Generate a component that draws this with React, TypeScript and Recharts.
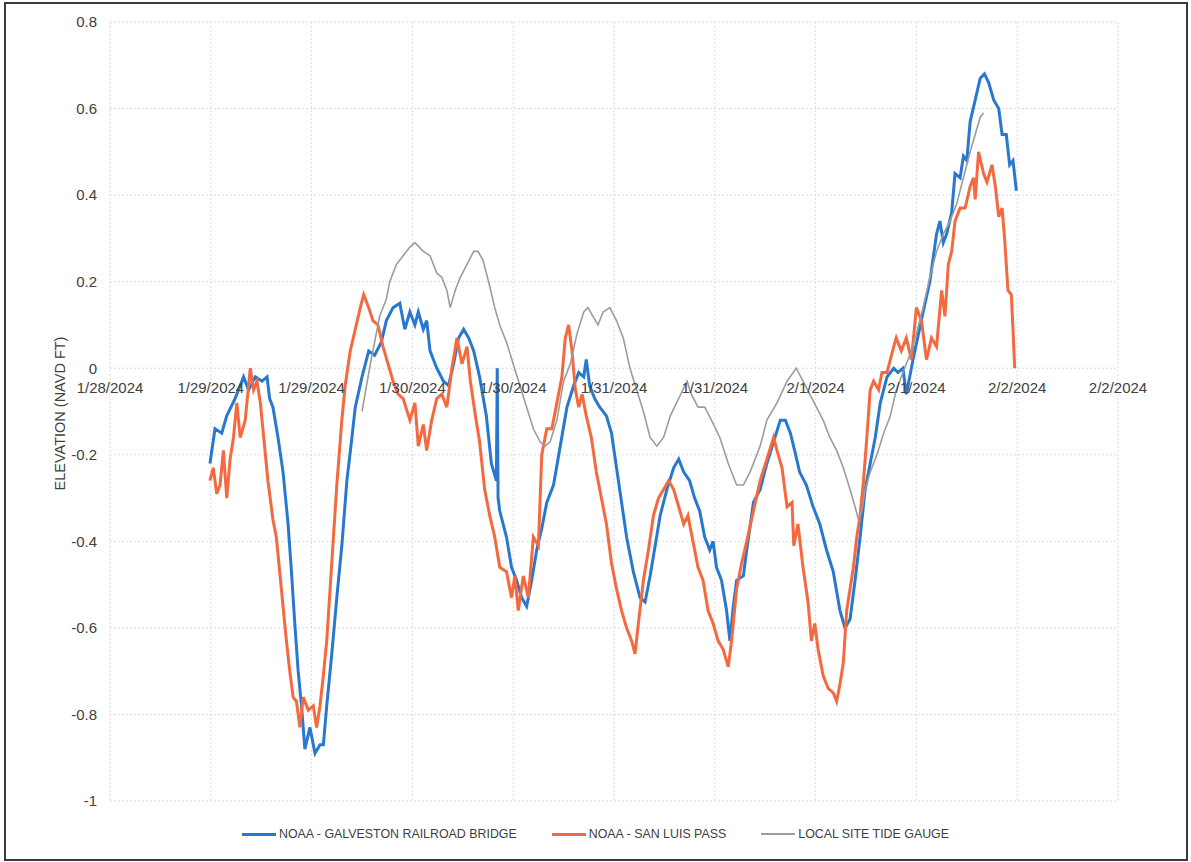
import { LineChart, Line, XAxis, YAxis, CartesianGrid } from 'recharts';

// hours after the first axis tick, elevation in ft (NAVD)
const galveston: [number, number][] = [
  [11.9, -0.22], [12.5, -0.14], [13.3, -0.15], [13.9, -0.11], [14.9, -0.07], [15.9, -0.02],
  [16.5, -0.05], [17.3, -0.02], [18.1, -0.03], [18.7, -0.02], [19.0, -0.07], [19.4, -0.09],
  [20.0, -0.16], [20.6, -0.24], [21.2, -0.36], [21.6, -0.47], [22.0, -0.59], [22.4, -0.7],
  [22.8, -0.78], [23.2, -0.88], [23.8, -0.83], [24.4, -0.89], [25.0, -0.87], [25.4, -0.87],
  [25.8, -0.78], [26.4, -0.66], [27.0, -0.53], [27.6, -0.41], [28.2, -0.26], [28.8, -0.16],
  [29.2, -0.09], [30.0, -0.02], [30.8, 0.04], [31.5, 0.03], [32.3, 0.06], [32.9, 0.11],
  [33.7, 0.14], [34.5, 0.15], [35.1, 0.09], [35.7, 0.13], [36.3, 0.1], [36.7, 0.13],
  [37.3, 0.09], [37.7, 0.11], [38.1, 0.04], [38.9, 0.0], [39.7, -0.03], [40.3, -0.04],
  [40.9, 0.01], [41.5, 0.07], [42.1, 0.09], [42.7, 0.07], [43.3, 0.04], [44.0, -0.02],
  [44.8, -0.11], [45.4, -0.22], [46.0, -0.26], [46.1, 0.0], [46.2, -0.3], [46.4, -0.33],
  [47.2, -0.39], [47.8, -0.46], [48.4, -0.49], [49.0, -0.53], [49.6, -0.55], [50.2, -0.49],
  [50.8, -0.42], [51.4, -0.37], [52.0, -0.31], [52.8, -0.27], [53.6, -0.18], [54.4, -0.09],
  [55.2, -0.04], [55.8, -0.01], [56.4, -0.02], [56.7, 0.02], [57.1, -0.04], [57.7, -0.07],
  [58.3, -0.09], [59.1, -0.11], [59.7, -0.15], [60.3, -0.23], [60.9, -0.31], [61.5, -0.39],
  [62.3, -0.47], [63.1, -0.53], [63.7, -0.54], [64.3, -0.48], [64.9, -0.41], [65.5, -0.34],
  [66.3, -0.28], [67.1, -0.23], [67.7, -0.21], [68.3, -0.24], [69.0, -0.26], [69.6, -0.3],
  [70.2, -0.33], [70.8, -0.39], [71.4, -0.42], [71.8, -0.4], [72.2, -0.46], [72.8, -0.49],
  [73.4, -0.56], [73.8, -0.63], [74.2, -0.55], [74.6, -0.49], [75.4, -0.48], [75.8, -0.42],
  [76.6, -0.31], [77.4, -0.28], [78.2, -0.22], [79.0, -0.17], [79.8, -0.12], [80.4, -0.12],
  [81.0, -0.15], [81.5, -0.19], [82.1, -0.24], [82.9, -0.27], [83.7, -0.32], [84.5, -0.36],
  [85.3, -0.42], [86.1, -0.47], [86.9, -0.56], [87.5, -0.6], [88.1, -0.58], [88.7, -0.49],
  [89.3, -0.39], [89.9, -0.28], [90.5, -0.22], [91.1, -0.16], [91.7, -0.08], [92.5, -0.02],
  [93.3, 0.0], [93.8, -0.01], [94.4, 0.0], [94.8, -0.06], [95.6, 0.02], [96.8, 0.13],
  [97.6, 0.2], [98.4, 0.31], [98.8, 0.34], [99.2, 0.29], [99.6, 0.31], [100.2, 0.36],
  [100.6, 0.45], [101.2, 0.44], [101.6, 0.49], [102.0, 0.48], [102.4, 0.57], [103.0, 0.62],
  [103.6, 0.67], [104.1, 0.68], [104.6, 0.66], [105.2, 0.62], [105.8, 0.6], [106.2, 0.54],
  [106.7, 0.54], [107.1, 0.47], [107.5, 0.48], [107.9, 0.41],
];

const sanLuisPass: [number, number][] = [
  [11.9, -0.26], [12.3, -0.23], [12.7, -0.29], [13.1, -0.27], [13.5, -0.19], [13.9, -0.3],
  [14.3, -0.21], [14.7, -0.16], [15.1, -0.08], [15.5, -0.16], [16.1, -0.12], [16.7, 0.0],
  [17.1, -0.05], [17.5, -0.03], [17.9, -0.08], [18.3, -0.16], [18.8, -0.26], [19.4, -0.35],
  [19.8, -0.39], [20.2, -0.47], [20.6, -0.55], [21.0, -0.63], [21.4, -0.7], [21.8, -0.76],
  [22.2, -0.77], [22.6, -0.83], [23.0, -0.76], [23.6, -0.79], [24.2, -0.78], [24.6, -0.83],
  [25.0, -0.78], [25.4, -0.71], [25.8, -0.63], [26.2, -0.51], [26.6, -0.39], [27.0, -0.27],
  [27.6, -0.12], [28.0, -0.04], [28.6, 0.04], [29.2, 0.09], [29.8, 0.14], [30.2, 0.17],
  [30.8, 0.14], [31.3, 0.11], [31.9, 0.1], [32.5, 0.05], [33.1, 0.01], [33.7, -0.03],
  [34.3, -0.06], [34.9, -0.07], [35.7, -0.12], [36.3, -0.08], [36.7, -0.18], [37.3, -0.13],
  [37.7, -0.19], [38.3, -0.12], [38.9, -0.07], [39.5, -0.06], [40.1, -0.09], [40.7, 0.0],
  [41.3, 0.07], [41.9, 0.01], [42.5, 0.05], [42.9, -0.03], [43.5, -0.11], [44.0, -0.17],
  [44.6, -0.28], [45.2, -0.34], [45.8, -0.39], [46.4, -0.46], [47.2, -0.47], [47.8, -0.53],
  [48.2, -0.48], [48.6, -0.56], [49.2, -0.48], [49.8, -0.53], [50.4, -0.39], [51.0, -0.41],
  [51.4, -0.2], [52.0, -0.14], [52.6, -0.14], [53.2, -0.08], [53.8, -0.02], [54.2, 0.07],
  [54.6, 0.1], [55.0, 0.04], [55.4, -0.05], [55.8, -0.09], [56.2, -0.06], [56.7, -0.11],
  [57.3, -0.16], [57.9, -0.24], [58.5, -0.3], [59.1, -0.36], [59.7, -0.45], [60.3, -0.51],
  [60.9, -0.56], [61.5, -0.6], [62.1, -0.63], [62.5, -0.66], [62.9, -0.59], [63.5, -0.49],
  [64.1, -0.42], [64.7, -0.34], [65.3, -0.3], [65.9, -0.28], [66.5, -0.26], [67.1, -0.28],
  [67.7, -0.32], [68.3, -0.36], [68.8, -0.34], [69.4, -0.4], [70.0, -0.46], [70.6, -0.49],
  [71.2, -0.56], [71.8, -0.59], [72.4, -0.63], [73.0, -0.65], [73.6, -0.69], [74.0, -0.63],
  [74.6, -0.51], [75.2, -0.45], [75.8, -0.4], [76.6, -0.33], [77.4, -0.26], [78.2, -0.21],
  [79.0, -0.16], [79.4, -0.19], [80.0, -0.23], [80.6, -0.32], [81.2, -0.31], [81.4, -0.41],
  [81.9, -0.36], [82.5, -0.46], [83.1, -0.54], [83.5, -0.63], [83.9, -0.59], [84.3, -0.65],
  [84.9, -0.71], [85.5, -0.74], [86.1, -0.75], [86.5, -0.77], [86.9, -0.73], [87.3, -0.68],
  [87.7, -0.56], [88.1, -0.51], [88.5, -0.46], [88.9, -0.39], [89.3, -0.34], [89.7, -0.26],
  [90.1, -0.16], [90.5, -0.05], [90.9, -0.03], [91.5, -0.05], [91.9, -0.01], [92.5, -0.01],
  [93.3, 0.05], [93.6, 0.07], [94.2, 0.04], [94.8, 0.07], [95.4, 0.02], [96.0, 0.14],
  [96.6, 0.11], [97.2, 0.02], [97.8, 0.07], [98.4, 0.05], [99.0, 0.18], [99.4, 0.12],
  [99.8, 0.24], [100.2, 0.27], [100.6, 0.34], [101.2, 0.37], [101.8, 0.37], [102.4, 0.42],
  [102.8, 0.44], [103.0, 0.39], [103.4, 0.5], [104.0, 0.45], [104.4, 0.43], [105.0, 0.47],
  [105.4, 0.42], [105.8, 0.35], [106.2, 0.37], [106.5, 0.3], [106.9, 0.18], [107.3, 0.17],
  [107.5, 0.09], [107.7, 0.0],
];

const localGauge: [number, number][] = [
  [30.0, -0.1], [30.9, 0.0], [31.7, 0.08], [32.1, 0.12], [32.9, 0.16], [33.3, 0.2],
  [34.1, 0.24], [34.5, 0.25], [35.7, 0.28], [36.3, 0.29], [37.3, 0.27], [38.1, 0.26],
  [38.9, 0.22], [39.5, 0.21], [40.1, 0.18], [40.5, 0.14], [41.1, 0.18], [41.7, 0.21],
  [42.5, 0.24], [43.3, 0.27], [43.8, 0.27], [44.4, 0.25], [45.2, 0.19], [45.8, 0.14],
  [46.4, 0.1], [47.2, 0.06], [48.0, 0.01], [48.8, -0.04], [49.6, -0.09], [50.4, -0.14],
  [51.2, -0.17], [51.8, -0.18], [52.4, -0.17], [53.2, -0.12], [54.0, -0.03], [54.8, 0.01],
  [55.6, 0.08], [56.4, 0.13], [56.9, 0.14], [57.5, 0.12], [58.1, 0.1], [58.7, 0.13],
  [59.5, 0.14], [60.3, 0.11], [61.1, 0.07], [61.9, 0.0], [62.7, -0.05], [63.5, -0.1],
  [64.3, -0.16], [65.1, -0.18], [65.9, -0.16], [66.7, -0.11], [67.7, -0.07], [68.7, -0.03],
  [69.2, -0.06], [70.0, -0.09], [70.8, -0.09], [71.6, -0.12], [72.6, -0.16], [73.6, -0.22],
  [74.6, -0.27], [75.4, -0.27], [76.2, -0.24], [77.4, -0.18], [78.2, -0.12], [79.4, -0.08],
  [80.6, -0.03], [81.7, 0.0], [82.5, -0.03], [83.3, -0.06], [84.1, -0.09], [84.9, -0.12],
  [85.7, -0.16], [86.5, -0.19], [87.3, -0.23], [88.1, -0.28], [88.7, -0.32], [89.1, -0.35],
  [89.5, -0.33], [89.9, -0.28], [90.5, -0.24], [91.3, -0.2], [92.1, -0.15], [92.9, -0.11],
  [93.6, -0.05], [94.4, -0.01], [95.2, 0.03], [96.0, 0.08], [96.8, 0.14], [97.6, 0.21],
  [98.4, 0.27], [99.2, 0.31], [100.0, 0.34], [100.8, 0.38], [101.6, 0.44], [102.4, 0.5],
  [103.0, 0.54], [103.6, 0.58], [104.0, 0.59],
];

const xTicks = [0, 12, 24, 36, 48, 60, 72, 84, 96, 108, 120];
const xTickLabels = [
  '1/28/2024', '1/29/2024', '1/29/2024', '1/30/2024', '1/30/2024', '1/31/2024',
  '1/31/2024', '2/1/2024', '2/1/2024', '2/2/2024', '2/2/2024',
];
const yTicks = [-1, -0.8, -0.6, -0.4, -0.2, 0, 0.2, 0.4, 0.6, 0.8];

const series = [
  { name: 'NOAA - GALVESTON RAILROAD BRIDGE', rows: galveston, color: '#2878cf', width: 3 },
  { name: 'NOAA - SAN LUIS PASS', rows: sanLuisPass, color: '#f4693f', width: 3 },
  { name: 'LOCAL SITE TIDE GAUGE', rows: localGauge, color: '#9c9c9c', width: 1.6 },
];

const FONT = '"Liberation Sans", Arial, sans-serif';
const TEXT = '#404040';
const TOP = 22;
const PLOT_H = 779;
const Y_MIN = -1;
const Y_MAX = 0.8;
// the category axis crosses the value axis at zero
const ZERO_Y = TOP + (PLOT_H * (Y_MAX - 0)) / (Y_MAX - Y_MIN);

const DateTick = ({ x, payload }: any) => (
  <text x={x} y={ZERO_Y + 25} textAnchor="middle" fill={TEXT} fontSize={15} fontFamily={FONT}>
    {xTickLabels[xTicks.indexOf(payload.value)] ?? ''}
  </text>
);

const YTitle = () => {
  const cx = 60;
  const cy = TOP + PLOT_H / 2 + 2;
  return (
    <text
      x={cx}
      y={cy}
      transform={`rotate(-90, ${cx}, ${cy})`}
      textAnchor="middle"
      dominantBaseline="central"
      fill={TEXT}
      fontSize={14.5}
      fontFamily={FONT}
    >
      ELEVATION (NAVD FT)
    </text>
  );
};

export default function App() {
  return (
    <div style={{ position: 'absolute', left: 0, top: 0, width: 1191, height: 862, background: '#fff' }}>
      <LineChart
        width={1191}
        height={862}
        margin={{ top: TOP, right: 73, bottom: 31, left: 0 }}
      >
        <CartesianGrid stroke="#d5dce5" strokeDasharray="2 2" />
        <XAxis
          type="number"
          dataKey="t"
          domain={[0, 120]}
          ticks={xTicks}
          interval={0}
          height={30}
          axisLine={false}
          tickLine={false}
          tickSize={0}
          tickMargin={0}
          tick={<DateTick />}
          allowDataOverflow
        />
        <YAxis
          type="number"
          domain={[Y_MIN, Y_MAX]}
          ticks={yTicks}
          width={110}
          axisLine={false}
          tickLine={false}
          tickSize={0}
          tickMargin={13}
          tick={{ fill: TEXT, fontSize: 15, fontFamily: FONT }}
          label={{ content: <YTitle /> }}
        />
        {series.map((s) => (
          <Line
            key={s.name}
            data={s.rows.map(([t, v]) => ({ t, v }))}
            dataKey="v"
            name={s.name}
            type="linear"
            stroke={s.color}
            strokeWidth={s.width}
            dot={false}
            activeDot={false}
            isAnimationActive={false}
          />
        ))}
      </LineChart>

      <div
        style={{
          position: 'absolute',
          left: 0,
          top: 827,
          width: 1191,
          display: 'flex',
          justifyContent: 'center',
          gap: 35,
          fontFamily: FONT,
          fontSize: 12.4,
          color: TEXT,
        }}
      >
        {series.map((s) => (
          <div key={s.name} style={{ display: 'flex', alignItems: 'center', gap: 3 }}>
            <div style={{ width: 34, height: s.width, background: s.color }} />
            <span>{s.name}</span>
          </div>
        ))}
      </div>

      <div
        style={{
          position: 'absolute',
          left: 4,
          top: 2,
          width: 1184,
          height: 859,
          boxSizing: 'border-box',
          border: '2px solid #3a3a3a',
          pointerEvents: 'none',
        }}
      />
    </div>
  );
}
